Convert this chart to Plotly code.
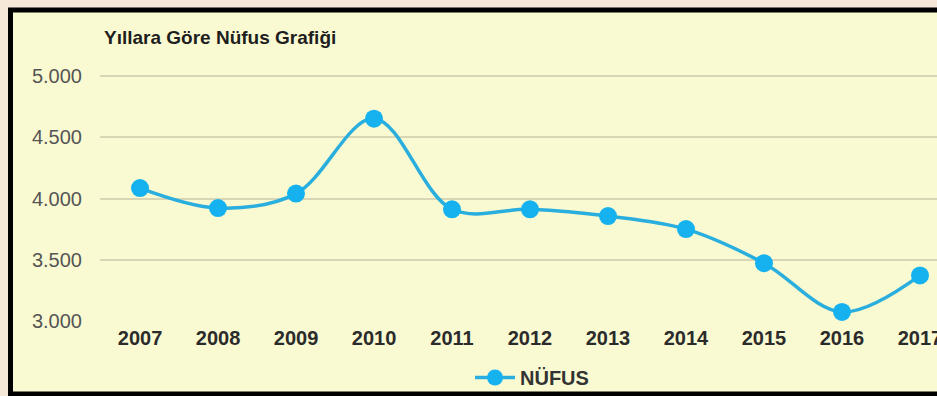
import plotly.graph_objects as go

years = [2007, 2008, 2009, 2010, 2011, 2012, 2013, 2014, 2015, 2016, 2017]
nufus = [4085, 3922, 4040, 4652, 3912, 3912, 3857, 3750, 3472, 3074, 3372]
y_ticks = [3000, 3500, 4000, 4500, 5000]
y_tick_labels = ["3.000", "3.500", "4.000", "4.500", "5.000"]
title_text = "Yıllara Göre Nüfus Grafiği"
series_name = "NÜFUS"

W, H = 937, 396
L, R, T, B = 100, 0, 60, 75
pw = W - L - R
ph = H - T - B


def px(x):
    return (x - L) / pw


def py(y):
    return (H - B - y) / ph


fig = go.Figure()
fig.add_trace(go.Scatter(
    x=years, y=nufus, name="<b>" + series_name + "</b>", mode="lines+markers",
    line=dict(color="#2aaede", width=3.5, shape="spline", smoothing=1.0),
    marker=dict(color="#16b2f0", size=18),
    cliponaxis=False,
))

font = "Arial, Liberation Sans, sans-serif"
fig.update_layout(
    width=W, height=H,
    margin=dict(l=L, r=R, t=T, b=B, pad=0, autoexpand=False),
    paper_bgcolor="#fafad2",
    plot_bgcolor="rgba(0,0,0,0)",
    showlegend=True,
    legend=dict(orientation="h", x=px(532), xanchor="center", y=py(358), yanchor="top",
                font=dict(family=font, size=20, color="#333333"),
                bgcolor="rgba(0,0,0,0)", itemwidth=40),
    xaxis=dict(range=[2006.487, 2017.218], tickmode="array", tickvals=years,
               ticktext=["<b>" + str(y) + "</b>" for y in years], showgrid=False,
               zeroline=False, showline=False, ticks="", ticklabeloverflow="allow",
               ticklabelstandoff=3, automargin=False,
               tickfont=dict(family=font, size=20, color="#2b2b2b")),
    yaxis=dict(range=[3000, 3000 + (H - B - T) / 61.25 * 500], tickmode="array",
               tickvals=y_ticks, ticktext=y_tick_labels, showgrid=True,
               gridcolor="#d9d6b6", gridwidth=2, zeroline=False, showline=False,
               ticks="", ticklabelstandoff=17, automargin=False,
               tickfont=dict(family=font, size=20, color="#555555")),
    annotations=[dict(text="<b>" + title_text + "</b>", xref="paper", yref="paper",
                      x=px(102), y=py(38), xanchor="left", yanchor="middle",
                      showarrow=False, font=dict(family=font, size=19, color="#1e1e1e"))],
    shapes=[
        dict(type="rect", xref="paper", yref="paper", x0=px(-5), x1=px(W + 5),
             y0=py(8), y1=py(-5), fillcolor="#f6e8d8", line=dict(width=0), layer="above"),
        dict(type="rect", xref="paper", yref="paper", x0=px(-5), x1=px(8),
             y0=py(H + 5), y1=py(-5), fillcolor="#f6e8d8", line=dict(width=0), layer="above"),
        dict(type="rect", xref="paper", yref="paper", x0=px(10.5), x1=px(W + 10),
             y0=py(394), y1=py(10), fillcolor="rgba(0,0,0,0)",
             line=dict(color="#000000", width=5), layer="above"),
    ],
)

fig.write_html("out.html")
